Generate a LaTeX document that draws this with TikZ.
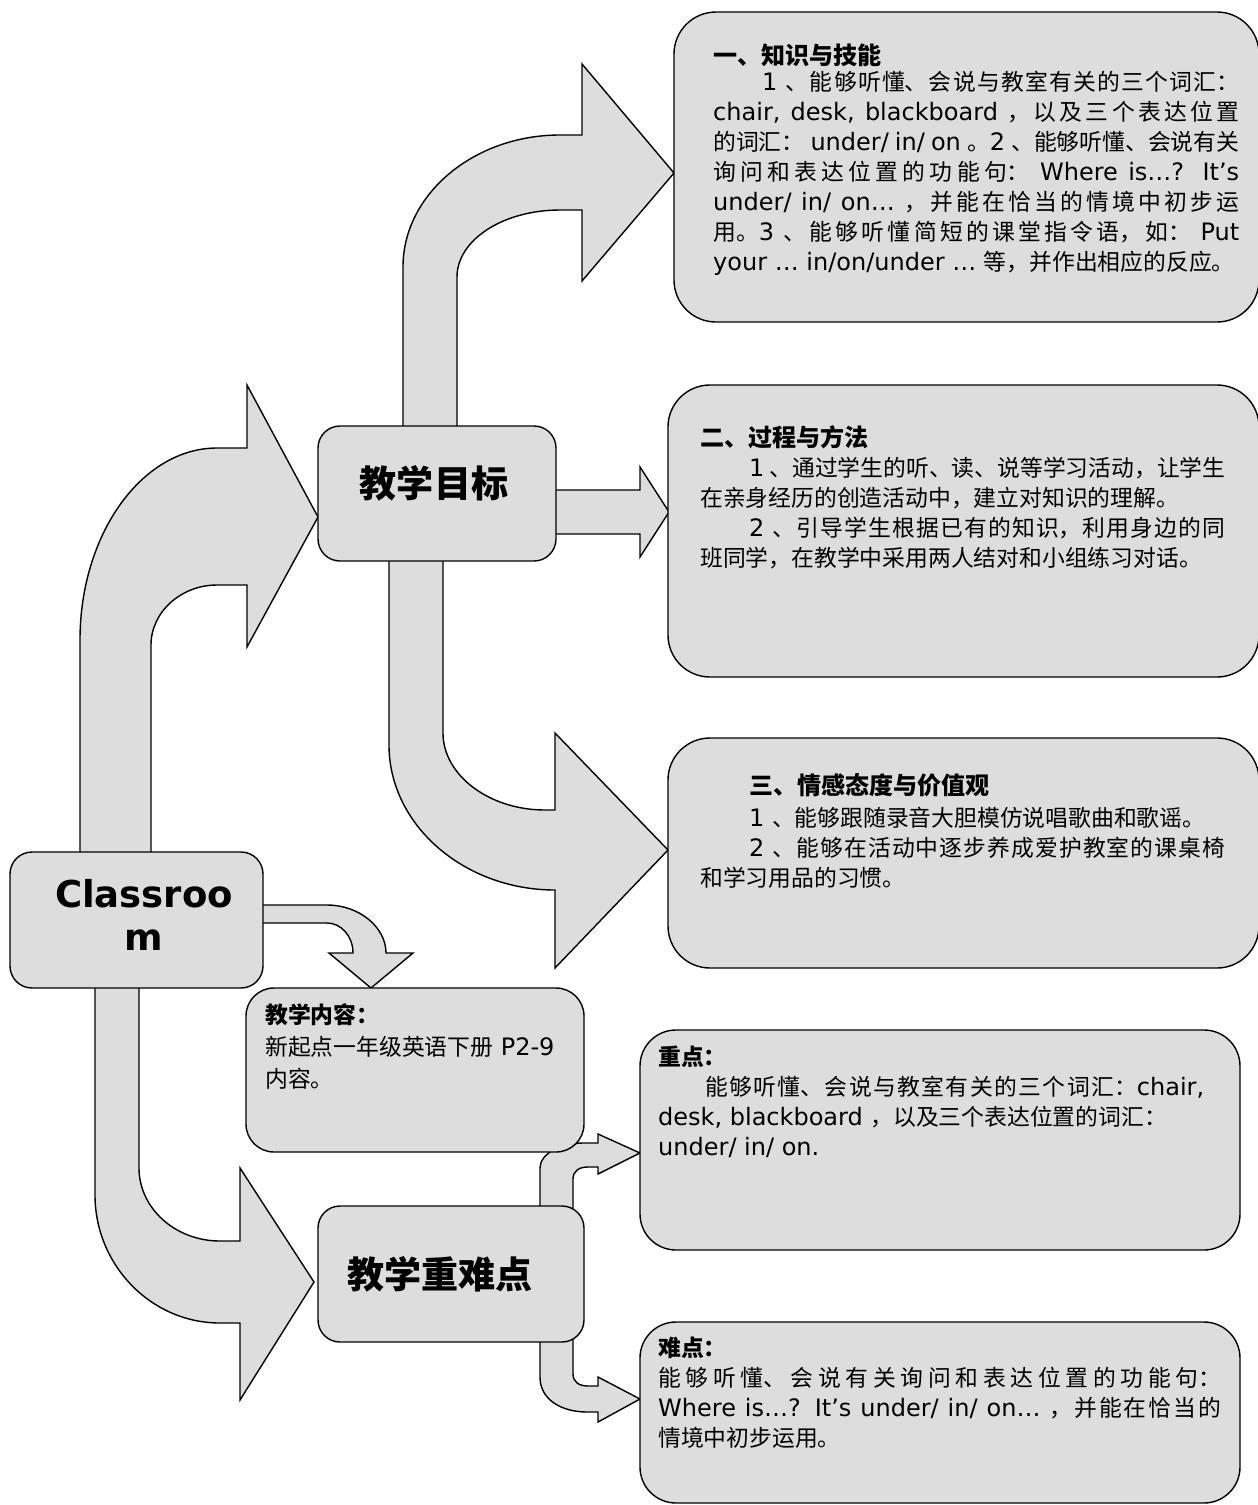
\documentclass[tikz,border=0pt]{standalone}
\usepackage{fontspec}
\setmainfont{DejaVu Sans}
\newfontfamily\latinfont{DejaVu Sans}
\newfontfamily\cjkfont{Noto Sans CJK SC}[Scale=0.95]
% Chinese characters get the CJK font
\XeTeXinterchartokenstate=1
\newXeTeXintercharclass\cjkclass
\count255="2E80
\loop
  \XeTeXcharclass\count255=\cjkclass
  \advance\count255 by 1
\ifnum\count255<"A000 \repeat
\count255="FF00
\loop
  \XeTeXcharclass\count255=\cjkclass
  \advance\count255 by 1
\ifnum\count255<"FFF0 \repeat
\XeTeXinterchartoks 0 \cjkclass = {\cjkfont}
\XeTeXinterchartoks 4095 \cjkclass = {\cjkfont}
\XeTeXinterchartoks \cjkclass 0 = {\latinfont}
\XeTeXinterchartoks \cjkclass 4095 = {\latinfont}
\XeTeXlinebreaklocale "zh"
\XeTeXlinebreakskip=0pt plus 6pt
\XeTeXlinebreakpenalty=10000
\tolerance=10000
\hbadness=10000
\setlength{\parindent}{0pt}
\definecolor{boxgray}{HTML}{DDDDDD}
\newcommand{\goalhead}{\fontsize{25.3pt}{30pt}\selectfont\bfseries}
\newcommand{\firstindent}{\hspace*{49pt}}
\tikzset{
  box/.style={draw, fill=boxgray, line width=1.4pt, rounded corners=#1, inner sep=0pt},
  box/.default=22pt,
  fatarrow/.style={draw, fill=boxgray, line width=1.4pt, line join=miter},
  bodytext/.style={anchor=north west, inner sep=0pt, text width=#1, align=justify,
    font=\fontsize{24pt}{30pt}\selectfont},
  title/.style={inner sep=0pt, align=center, font=\fontsize{39pt}{45pt}\selectfont\bfseries}
}
\begin{document}
\begin{tikzpicture}[x=1pt,y=-1pt]
  \useasboundingbox (0,0) rectangle (1258,1505);
  \clip (0,0) rectangle (1258,1505);
  % block arrows
  \draw[fatarrow] (80,860) -- (80,640) .. controls (80,534) and (142,448) .. (217,448)
    -- (247,448) -- (247,385) -- (318,517) -- (247,647) -- (247,585) -- (217,585)
    .. controls (181,585) and (151,612) .. (151,645) -- (151,860) -- cycle;
  \draw[fatarrow] (403,432) -- (403,267) .. controls (403,194) and (474,135) .. (560,135)
    -- (582,135) -- (582,64) -- (674,173) -- (582,281) -- (582,210) -- (560,210)
    .. controls (503,210) and (457,240) .. (457,277) -- (457,432) -- cycle;
  \draw[fatarrow] (550,490) -- (640,490) -- (640,467) -- (669,512) -- (640,557)
    -- (640,534) -- (550,534) -- cycle;
  \draw[fatarrow] (389,555) -- (389,745) .. controls (389,825) and (464,890) .. (555,890)
    -- (555,968) -- (668,850) -- (555,733) -- (555,810) -- (545,810)
    .. controls (489,810) and (443,775) .. (443,733) -- (443,555) -- cycle;
  \draw[fatarrow] (257,905) -- (327,905) .. controls (359,905) and (386,927) .. (386,953)
    -- (413,953) -- (371,988) -- (329,953) -- (353,953)
    .. controls (353,936) and (341,923) .. (327,923) -- (257,923) -- cycle;
  \draw[fatarrow] (95,982) -- (95,1195) .. controls (95,1265) and (151,1323) .. (220,1323)
    -- (240,1323) -- (240,1400) -- (314,1282) -- (240,1168) -- (240,1241) -- (220,1241)
    .. controls (175,1241) and (139,1208) .. (139,1168) -- (139,982) -- cycle;
  \draw[fatarrow] (540,1212) -- (540,1168) .. controls (540,1153) and (562,1143) .. (583,1143)
    -- (598,1143) -- (598,1134) -- (640,1153) -- (598,1174) -- (598,1167) -- (588,1167)
    .. controls (579,1167) and (573,1171) .. (573,1179) -- (573,1212) -- cycle;
  \draw[fatarrow] (540,1336) -- (540,1377) .. controls (540,1400) and (562,1412) .. (587,1412)
    -- (598,1412) -- (598,1422) -- (640,1399) -- (598,1377) -- (598,1386) -- (588,1386)
    .. controls (579,1386) and (573,1382) .. (573,1374) -- (573,1336) -- cycle;
  % boxes
  \node[box=42pt, minimum width=585, minimum height=310] (know) at (966.5,167) {};
  \node[box=42pt, minimum width=591, minimum height=292] (proc) at (963.5,531) {};
  \node[box=42pt, minimum width=591, minimum height=230] (emo) at (963.5,853) {};
  \node[box=36pt, minimum width=600, minimum height=220] (key) at (940,1140) {};
  \node[box=36pt, minimum width=600, minimum height=181] (hard) at (940,1412.5) {};
  \node[box=28pt, minimum width=338, minimum height=164] (content) at (415,1070) {};
  \node[box, minimum width=238, minimum height=135] (goal) at (437,493.5) {};
  \node[box, minimum width=266, minimum height=136] (focus) at (451,1274) {};
  \node[box, minimum width=253, minimum height=136] (classroom) at (136.5,920) {};
  % titles
  \node[title] (goal-label) at (434,483.5) {教学目标};
  \node[title] (focus-label) at (440,1274.5) {教学重难点};
  \node[title, anchor=north, font=\fontsize{37pt}{43pt}\selectfont\bfseries]
    (classroom-label) at (144,879) {Classroo\\m};
  % texts
  \node[bodytext=526pt] (know-text) at (713,43) {\strut{\goalhead 一、知识与技能}\par\vspace{-4pt}
    \firstindent 1 、能够听懂、会说与教室有关的三个词汇：\linebreak
    chair, desk, blackboard ，以及三个表达位置\linebreak
    的词汇： under/ in/ on 。2 、能够听懂、会说有关\linebreak
    询问和表达位置的功能句： Where is…? It’s\linebreak
    under/ in/ on… ，并能在恰当的情境中初步运\linebreak
    用。3 、能够听懂简短的课堂指令语，如： Put\linebreak
    your … in/on/under … 等，并作出相应的反应。\par};
  \node[bodytext=525pt] (proc-text) at (700,425) {\strut{\goalhead 二、过程与方法}\par
    \firstindent 1 、通过学生的听、读、说等学习活动，让学生\linebreak
    在亲身经历的创造活动中，建立对知识的理解。\par
    \firstindent 2 、引导学生根据已有的知识，利用身边的同\linebreak
    班同学，在教学中采用两人结对和小组练习对话。\par};
  \node[bodytext=525pt] (emo-text) at (700,773) {\strut\firstindent{\goalhead 三、情感态度与价值观}\par\vspace{2pt}
    \firstindent 1 、能够跟随录音大胆模仿说唱歌曲和歌谣。\par
    \firstindent 2 、能够在活动中逐步养成爱护教室的课桌椅\linebreak
    和学习用品的习惯。\par};
  \node[bodytext=546pt] (key-text) at (658,1044.5) {\strut{\bfseries 重点：}\par
    \hspace*{47pt}能够听懂、会说与教室有关的三个词汇：chair,\linebreak
    desk, blackboard ，以及三个表达位置的词汇：\par
    under/ in/ on.\par};
  \node[bodytext=563pt] (hard-text) at (658,1335.5) {\strut{\bfseries 难点：}\par
    能够听懂、会说有关询问和表达位置的功能句：\linebreak
    Where is…? It’s under/ in/ on… ，并能在恰当的\linebreak
    情境中初步运用。\par};
  \node[bodytext=320pt, font=\fontsize{24pt}{32pt}\selectfont] (content-text) at (265,1001)
    {\strut{\bfseries 教学内容：}\par
    新起点一年级英语下册 P2-9\par
    内容。\par};
\end{tikzpicture}
\end{document}
